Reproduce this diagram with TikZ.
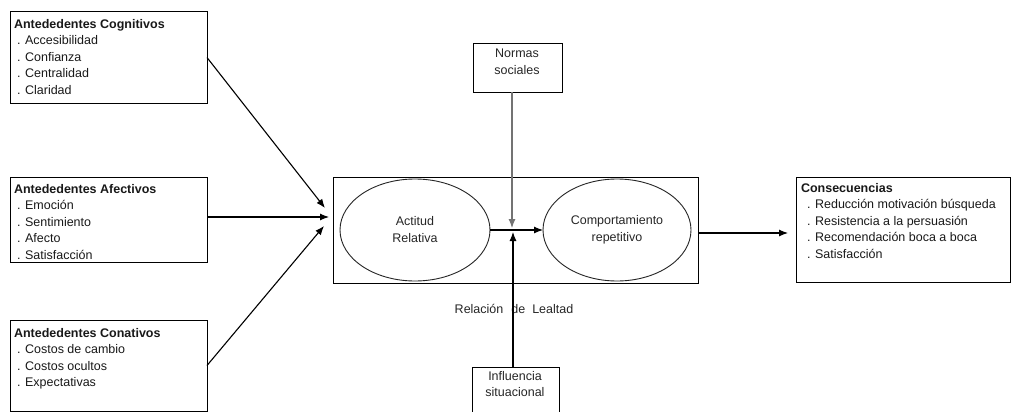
\documentclass[tikz,border=0pt]{standalone}
\usepackage{fontspec}
\setmainfont{Liberation Sans}
\usetikzlibrary{arrows.meta,shapes.geometric,calc}
\tikzset{
  box/.style={draw=black, line width=1pt, rectangle, inner sep=0pt, outer sep=0pt, anchor=north west},
  oval/.style={draw=black!85, line width=0.9pt, ellipse, inner sep=0pt, outer sep=0pt, align=center,
    minimum width=150pt, minimum height=102pt, text=black!85, font=\fontsize{12.5}{17}\selectfont},
  txt/.style={inner sep=0pt, outer sep=0pt, anchor=north west, align=left, text=black!90,
    font=\fontsize{12.5}{16.5}\selectfont},
  ctxt/.style={inner sep=0pt, outer sep=0pt, align=center, text=black!85,
    font=\fontsize{12.5}{16.5}\selectfont},
  arr/.style={line width=1.1pt, -{Latex[length=9pt,width=7pt]}},
}
\begin{document}
\begin{tikzpicture}[x=1pt,y=-1pt]
\clip (0,0) rectangle (1012,412);
\fill[white] (0,0) rectangle (1012,412);
% left boxes
\node[box, minimum width=197pt, minimum height=91pt] (b1) at (10,12) {};
\node[box, minimum width=197pt, minimum height=85pt] (b2) at (10,177) {};
\node[box, minimum width=197pt, minimum height=91pt] (b3) at (10,320) {};
\node[txt] (t1) at (14,19) {\textbf{Antededentes Cognitivos}\\\hspace{3pt}. Accesibilidad\\\hspace{3pt}. Confianza\\\hspace{3pt}. Centralidad\\\hspace{3pt}. Claridad};
\node[txt] (t2) at (14,184) {\textbf{Antededentes Afectivos}\\\hspace{3pt}. Emoción\\\hspace{3pt}. Sentimiento\\\hspace{3pt}. Afecto\\\hspace{3pt}. Satisfacción};
\node[txt] (t3) at (14,328) {\textbf{Antededentes Conativos}\\\hspace{3pt}. Costos de cambio\\\hspace{3pt}. Costos ocultos\\\hspace{3pt}. Expectativas};
% central
\node[box, minimum width=365pt, minimum height=106pt] (big) at (333,177) {};
\node[oval] (e1) at (415,230) {Actitud\\Relativa};
\node[oval, minimum width=148pt] (e2) at (617,230) {Comportamiento\\repetitivo};
% top / bottom boxes
\node[box, minimum width=89pt, minimum height=48pt] (ns) at (473,44) {};
\node[ctxt, anchor=north] (nst) at (517,49) {Normas\\sociales};
\node[box, minimum width=87pt, minimum height=50pt] (inf) at (472,367) {};
\node[ctxt, anchor=north] (inft) at (515,371) {Influencia\\situacional};
\node[ctxt] (rel) at (514,309) {Relación\hspace{8pt}de\hspace{7pt}Lealtad};
% consequences
\node[box, minimum width=214pt, minimum height=105pt] (cons) at (796,177) {};
\node[txt] (t4) at (801,183) {\textbf{Consecuencias}\\\hspace{6pt}. Reducción motivación búsqueda\\\hspace{6pt}. Resistencia a la persuasión\\\hspace{6pt}. Recomendación boca a boca\\\hspace{6pt}. Satisfacción};
% coordinates
\coordinate (c1) at (325,208);
\coordinate (c2) at (329,217);
\coordinate (c3) at (324,226);
\coordinate (m1) at (512,228);
\coordinate (m2) at (513,232);
\coordinate (ca) at (788,233);
% connectors
\draw[arr] (b1.east) -- (c1);
\draw[arr] (b2.east |- c2) -- (c2);
\draw[arr] (b3.east) -- (c3);
\draw[arr] (e1.east) -- (e2.west);
\draw[arr, draw=black!55] (ns.south -| m1) -- (m1);
\draw[arr] (inf.north -| m2) -- (m2);
\draw[arr] (big.east |- ca) -- (ca);
\end{tikzpicture}
\end{document}
